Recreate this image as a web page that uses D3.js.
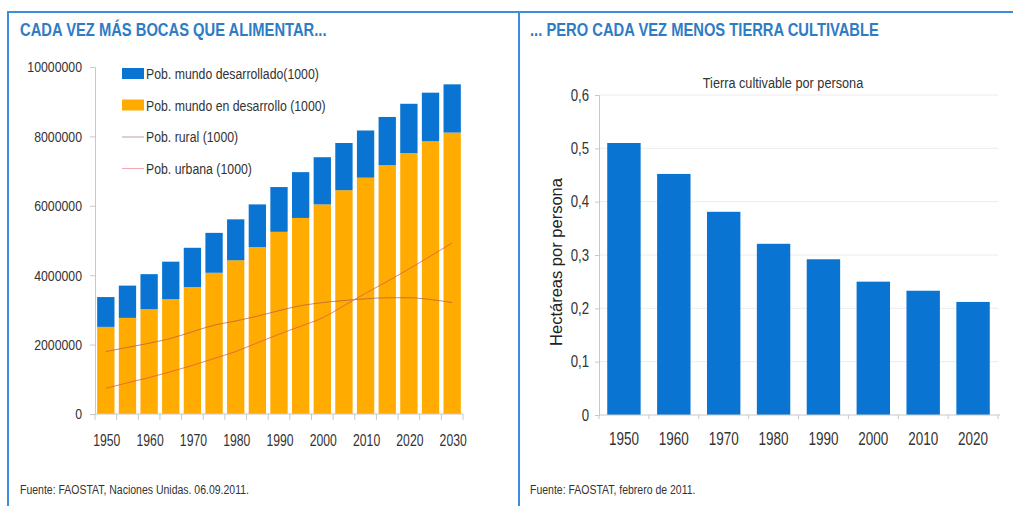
<!DOCTYPE html>
<html>
<head>
<meta charset="utf-8">
<script src="https://cdn.jsdelivr.net/npm/d3@7"></script>
<style>
  body { margin: 0; background: #fff; }
  svg { display: block; font-family: "Liberation Sans", Arial, sans-serif; }
</style>
</head>
<body>
<svg id="chart" width="1013" height="506"></svg>
<script>
// left chart: population (thousands)
const years = [1950, 1955, 1960, 1965, 1970, 1975, 1980, 1985, 1990, 1995, 2000, 2005, 2010, 2015, 2020, 2025, 2030];
const developing = [2510000, 2770000, 3020000, 3310000, 3660000, 4070000, 4430000, 4810000, 5250000, 5650000, 6040000, 6450000, 6810000, 7170000, 7520000, 7860000, 8110000];
const developed = [860000, 930000, 1010000, 1080000, 1130000, 1150000, 1180000, 1230000, 1290000, 1320000, 1360000, 1360000, 1360000, 1390000, 1420000, 1400000, 1390000];
const rural = [1800000, 1920000, 2040000, 2180000, 2370000, 2560000, 2680000, 2820000, 2980000, 3120000, 3210000, 3270000, 3320000, 3350000, 3350000, 3300000, 3210000];
const urban = [740000, 900000, 1050000, 1220000, 1400000, 1600000, 1800000, 2050000, 2300000, 2530000, 2770000, 3120000, 3480000, 3820000, 4180000, 4550000, 4930000];
const leftYTicks = [0, 2000000, 4000000, 6000000, 8000000, 10000000];
const leftXLabels = [1950, 1960, 1970, 1980, 1990, 2000, 2010, 2020, 2030];
const legendLabels = ['Pob. mundo desarrollado(1000)', 'Pob. mundo en desarrollo (1000)', 'Pob. rural (1000)', 'Pob. urbana (1000)'];

// right chart: arable land per person (ha)
const landYears = [1950, 1960, 1970, 1980, 1990, 2000, 2010, 2020];
const landPerPerson = [0.51, 0.452, 0.381, 0.321, 0.292, 0.25, 0.233, 0.212];
const rightYTicks = [0, 0.1, 0.2, 0.3, 0.4, 0.5, 0.6];

const BLUE = '#0a74d2';
const ORANGE = '#ffab00';
const AXIS = '#c8c8c8';
const TEXT = '#333';
const TITLE = '#2d7cc6';
const NARROW = 0.82; // no Arial Narrow installed: squeeze Liberation Sans

const svg = d3.select('#chart');

// text drawn horizontally squeezed, like Arial Narrow
function narrowText(parent, x, y, str, size, sx) {
    return parent.append('text')
        .attr('transform', 'translate(' + x + ',' + y + ') scale(' + (sx || NARROW) + ',1)')
        .attr('font-size', size)
        .attr('fill', TEXT)
        .text(str);
}

// panel frames
svg.append('rect')
    .attr('x', 8).attr('y', 12)
    .attr('width', 511).attr('height', 520)
    .attr('fill', 'none').attr('stroke', '#3b8edb').attr('stroke-width', 2);
svg.append('line')
    .attr('x1', 519).attr('x2', 1015).attr('y1', 12).attr('y2', 12)
    .attr('stroke', '#3b8edb').attr('stroke-width', 2);

// titles
narrowText(svg, 20, 36, 'CADA VEZ MÁS BOCAS QUE ALIMENTAR...', 18)
    .attr('font-weight', 'bold').attr('fill', TITLE);
narrowText(svg, 530, 36, '... PERO CADA VEZ MENOS TIERRA CULTIVABLE', 18)
    .attr('font-weight', 'bold').attr('fill', TITLE);

// ---------- left chart ----------
const x1 = d3.scaleBand()
    .domain(years)
    .range([95, 463])
    .paddingInner(0.2)
    .paddingOuter(0.1);
const y1 = d3.scaleLinear()
    .domain([0, 10000000])
    .range([414, 67]);

const left = svg.append('g');

// stacked bars
const stackData = years.map((yr, i) => ({ year: yr, developing: developing[i], developed: developed[i] }));
const series = d3.stack().keys(['developing', 'developed'])(stackData);
const colors = { developing: ORANGE, developed: BLUE };

left.selectAll('g.layer')
    .data(series)
    .enter()
    .append('g')
    .attr('class', 'layer')
    .attr('fill', d => colors[d.key])
    .selectAll('rect')
    .data(d => d)
    .enter()
    .append('rect')
    .attr('x', d => x1(d.data.year))
    .attr('width', x1.bandwidth())
    .attr('y', d => y1(d[1]))
    .attr('height', d => y1(d[0]) - y1(d[1]));

// rural / urban lines
const line = d3.line()
    .x((d, i) => x1(years[i]) + x1.bandwidth() / 2)
    .y(d => y1(d))
    .curve(d3.curveMonotoneX);
left.append('path')
    .attr('d', line(rural))
    .attr('fill', 'none').attr('stroke', '#b0604a').attr('stroke-opacity', 0.75).attr('stroke-width', 1);
left.append('path')
    .attr('d', line(urban))
    .attr('fill', 'none').attr('stroke', '#d8584a').attr('stroke-opacity', 0.75).attr('stroke-width', 1);

// y axis
const yAxis1 = d3.axisLeft(y1).tickValues(leftYTicks).tickSize(5).tickFormat(d3.format('d'));
const gY1 = left.append('g').attr('transform', 'translate(95,0)').call(yAxis1);
gY1.select('.domain').attr('stroke', AXIS);
gY1.selectAll('.tick line').attr('stroke', AXIS);
gY1.selectAll('.tick text')
    .attr('fill', TEXT).attr('font-size', 15).attr('font-family', null)
    .attr('x', -13 / NARROW)
    .attr('transform', 'scale(' + NARROW + ',1)');

// x axis: baseline + ticks between bars
left.append('line')
    .attr('x1', 95).attr('x2', 463).attr('y1', y1(0)).attr('y2', y1(0))
    .attr('stroke', AXIS);
const gap1 = x1.step() - x1.bandwidth();
const bounds1 = years.map(yr => x1(yr) - gap1 / 2).concat([x1(years[years.length - 1]) + x1.bandwidth() + gap1 / 2]);
left.selectAll('line.xtick')
    .data(bounds1)
    .enter()
    .append('line')
    .attr('class', 'xtick')
    .attr('x1', d => d).attr('x2', d => d)
    .attr('y1', y1(0)).attr('y2', y1(0) + 6)
    .attr('stroke', AXIS);
leftXLabels.forEach(yr => {
    narrowText(left, x1(yr) + x1.bandwidth() / 2 + 1, 446, yr, 16.5, 0.74)
        .attr('text-anchor', 'middle');
});

// legend
legendLabels.forEach((lab, i) => {
    const g = left.append('g').attr('transform', 'translate(122,' + (74 + i * 31.5) + ')');
    if (i < 2) {
        g.append('rect').attr('x', 0).attr('y', -6).attr('width', 22).attr('height', 11)
            .attr('fill', i === 0 ? BLUE : ORANGE);
    } else {
        g.append('line').attr('x1', 0).attr('x2', 22).attr('y1', 0).attr('y2', 0)
            .attr('stroke', i === 2 ? '#b8a0a0' : '#f4a8b0').attr('stroke-width', 1);
    }
    narrowText(g, 24, 5, lab, 15);
});

// source
narrowText(left, 20, 494, 'Fuente: FAOSTAT, Naciones Unidas. 06.09.2011.', 12.8);

// ---------- right chart ----------
const x2 = d3.scaleBand()
    .domain(landYears)
    .range([599, 998])
    .paddingInner(0.33)
    .paddingOuter(0.165);
const y2 = d3.scaleLinear()
    .domain([0, 0.6])
    .range([415, 95]);
const fmtComma = d => d === 0 ? '0' : d3.format('.1f')(d).replace('.', ',');

const right = svg.append('g');

// gridlines
right.selectAll('line.grid')
    .data(rightYTicks.filter(d => d > 0))
    .enter()
    .append('line')
    .attr('class', 'grid')
    .attr('x1', 599).attr('x2', 998)
    .attr('y1', d => y2(d)).attr('y2', d => y2(d))
    .attr('stroke', '#ececec');

right.selectAll('rect.bar')
    .data(landPerPerson)
    .enter()
    .append('rect')
    .attr('class', 'bar')
    .attr('x', (d, i) => x2(landYears[i]))
    .attr('width', x2.bandwidth())
    .attr('y', d => y2(d))
    .attr('height', d => y2(0) - y2(d))
    .attr('fill', BLUE);

const yAxis2 = d3.axisLeft(y2).tickValues(rightYTicks).tickSize(4).tickFormat(fmtComma);
const gY2 = right.append('g').attr('transform', 'translate(599,0)').call(yAxis2);
gY2.select('.domain').attr('stroke', AXIS);
gY2.selectAll('.tick line').attr('stroke', AXIS);
gY2.selectAll('.tick text')
    .attr('fill', TEXT).attr('font-size', 16.5).attr('font-family', null)
    .attr('x', -10 / 0.8)
    .attr('transform', 'scale(0.8,1)');

right.append('line')
    .attr('x1', 599).attr('x2', 1000).attr('y1', y2(0)).attr('y2', y2(0))
    .attr('stroke', AXIS);
const gap2 = x2.step() - x2.bandwidth();
const bounds2 = landYears.map(yr => x2(yr) - gap2 / 2).concat([x2(landYears[landYears.length - 1]) + x2.bandwidth() + gap2 / 2]);
right.selectAll('line.xtick')
    .data(bounds2)
    .enter()
    .append('line')
    .attr('class', 'xtick')
    .attr('x1', d => d).attr('x2', d => d)
    .attr('y1', y2(0)).attr('y2', y2(0) + 4)
    .attr('stroke', AXIS);
landYears.forEach(yr => {
    narrowText(right, x2(yr) + x2.bandwidth() / 2, 445, yr, 17.5, 0.77)
        .attr('text-anchor', 'middle');
});

narrowText(right, 783, 88, 'Tierra cultivable por persona', 15.5)
    .attr('text-anchor', 'middle');

right.append('text')
    .attr('transform', 'translate(562,262) rotate(-90)')
    .attr('text-anchor', 'middle')
    .attr('font-size', 16.5).attr('fill', '#222')
    .text('Hectáreas por persona');

narrowText(right, 530, 494, 'Fuente: FAOSTAT, febrero de 2011.', 12.8);
</script>
</body>
</html>
